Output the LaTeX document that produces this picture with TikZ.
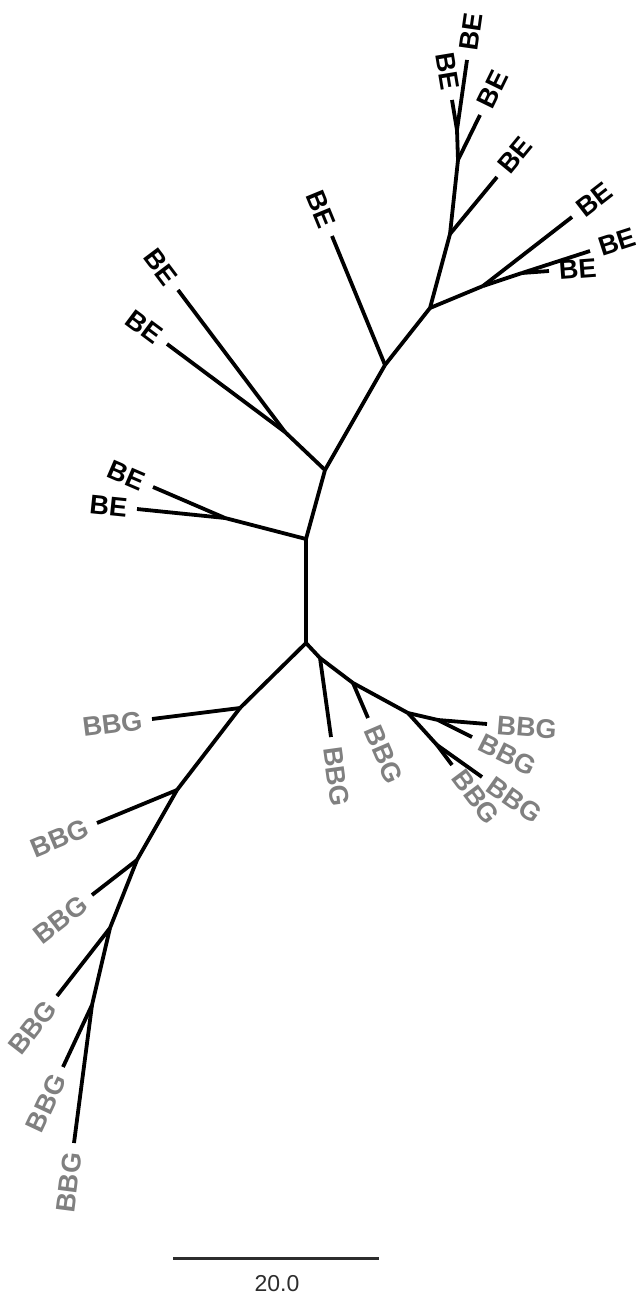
\documentclass[tikz,border=0pt]{standalone}
\usepackage{fontspec}
\setmainfont{Liberation Sans}
\usepackage{tikz}
\definecolor{bbggray}{RGB}{128,128,128}
\definecolor{bargray}{RGB}{45,45,45}
\tikzset{
	branch/.style={line width=1.9pt, line join=round},
	leafR/.style={pos=1, sloped, anchor=west, inner sep=4pt, font=\fontsize{13.5}{15}\selectfont\bfseries},
	leafL/.style={pos=1, sloped, anchor=east, inner sep=4pt, font=\fontsize{13.5}{15}\selectfont\bfseries},
	be/.style={text=black},
	bbg/.style={text=bbggray}
}
\begin{document}
\begin{tikzpicture}[x=0.5pt, y=-0.5pt]

		\useasboundingbox (0,0) rectangle (638,1294);

		\coordinate (a) at (306,539);
		\coordinate (b) at (306,643);
		\coordinate (c) at (325,470);
		\coordinate (d) at (225,518);
		\coordinate (e) at (285,432);
		\coordinate (f) at (385,365);
		\coordinate (g) at (430,308);
		\coordinate (h) at (450,234);
		\coordinate (k) at (458,160);
		\coordinate (l) at (457,130);
		\coordinate (i) at (483,286);
		\coordinate (j) at (522,273);
		\coordinate (m) at (240,708);
		\coordinate (s) at (177,790);
		\coordinate (t) at (137,860);
		\coordinate (u) at (110,928);
		\coordinate (v) at (92,1005);
		\coordinate (n) at (320,658);
		\coordinate (o) at (353,683);
		\coordinate (p) at (408,713);
		\coordinate (q) at (438,720);
		\coordinate (r) at (437,745);

		\coordinate (tip1) at (153,487);
		\coordinate (tip2) at (137,509);
		\coordinate (tip3) at (178,290);
		\coordinate (tip4) at (167,344);
		\coordinate (tip5) at (332,236);
		\coordinate (tip6) at (497,177);
		\coordinate (tip7) at (480,115);
		\coordinate (tip8) at (452,100);
		\coordinate (tip9) at (467,60);
		\coordinate (tip10) at (572,217);
		\coordinate (tip11) at (590,251);
		\coordinate (tip12) at (549,271);
		\coordinate (tip13) at (152,719);
		\coordinate (tip14) at (97,823);
		\coordinate (tip15) at (92,895);
		\coordinate (tip16) at (57,996);
		\coordinate (tip17) at (63,1067);
		\coordinate (tip18) at (74,1143);
		\coordinate (tip19) at (331,737);
		\coordinate (tip20) at (368,718);
		\coordinate (tip21) at (487,724);
		\coordinate (tip22) at (472,737);
		\coordinate (tip23) at (452,765);
		\coordinate (tip24) at (482,777);

		\draw[branch] (a) -- (b);
		\draw[branch] (a) -- (c);
		\draw[branch] (a) -- (d);
		\draw[branch] (c) -- (e);
		\draw[branch] (c) -- (f);
		\draw[branch] (f) -- (g);
		\draw[branch] (g) -- (h);
		\draw[branch] (h) -- (k);
		\draw[branch] (k) -- (l);
		\draw[branch] (g) -- (i);
		\draw[branch] (i) -- (j);
		\draw[branch] (b) -- (m);
		\draw[branch] (m) -- (s);
		\draw[branch] (s) -- (t);
		\draw[branch] (t) -- (u);
		\draw[branch] (u) -- (v);
		\draw[branch] (b) -- (n);
		\draw[branch] (n) -- (o);
		\draw[branch] (o) -- (p);
		\draw[branch] (p) -- (q);
		\draw[branch] (p) -- (r);

		\draw[branch] (d) -- (tip1) node[leafL, be] (lab1) {BE};
		\draw[branch] (d) -- (tip2) node[leafL, be] (lab2) {BE};
		\draw[branch] (e) -- (tip3) node[leafL, be] (lab3) {BE};
		\draw[branch] (e) -- (tip4) node[leafL, be] (lab4) {BE};
		\draw[branch] (f) -- (tip5) node[leafL, be] (lab5) {BE};
		\draw[branch] (h) -- (tip6) node[leafR, be] (lab6) {BE};
		\draw[branch] (k) -- (tip7) node[leafR, be] (lab7) {BE};
		\draw[branch] (l) -- (tip8) node[leafL, be] (lab8) {BE};
		\draw[branch] (l) -- (tip9) node[leafR, be] (lab9) {BE};
		\draw[branch] (i) -- (tip10) node[leafR, be] (lab10) {BE};
		\draw[branch] (j) -- (tip11) node[leafR, be] (lab11) {BE};
		\draw[branch] (j) -- (tip12) node[leafR, be] (lab12) {BE};

		\draw[branch] (m) -- (tip13) node[leafL, bbg] (lab13) {BBG};
		\draw[branch] (s) -- (tip14) node[leafL, bbg] (lab14) {BBG};
		\draw[branch] (t) -- (tip15) node[leafL, bbg] (lab15) {BBG};
		\draw[branch] (u) -- (tip16) node[leafL, bbg] (lab16) {BBG};
		\draw[branch] (v) -- (tip17) node[leafL, bbg] (lab17) {BBG};
		\draw[branch] (v) -- (tip18) node[leafL, bbg] (lab18) {BBG};
		\draw[branch] (n) -- (tip19) node[leafR, bbg] (lab19) {BBG};
		\draw[branch] (o) -- (tip20) node[leafR, bbg] (lab20) {BBG};
		\draw[branch] (q) -- (tip21) node[leafR, bbg] (lab21) {BBG};
		\draw[branch] (q) -- (tip22) node[leafR, bbg] (lab22) {BBG};
		\draw[branch] (r) -- (tip23) node[leafR, bbg] (lab23) {BBG};
		\draw[branch] (r) -- (tip24) node[leafR, bbg] (lab24) {BBG};

		\coordinate (barL) at (173,1258);
		\coordinate (barR) at (379,1258);
		\draw[line width=1.5pt, color=bargray] (barL) -- (barR);
		\node[text=bargray, font=\fontsize{11.5}{13}\selectfont] (scale) at (277,1284) {20.0};
	\end{tikzpicture}
\end{document}
